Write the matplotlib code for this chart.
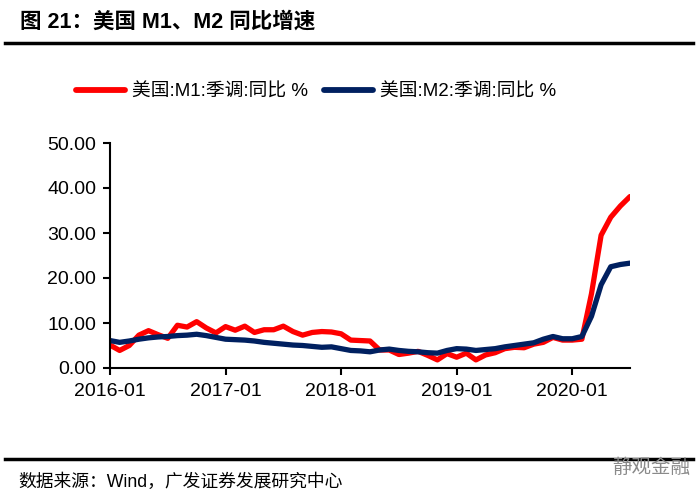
import matplotlib
matplotlib.use("Agg")
import matplotlib.pyplot as plt
import numpy as np

plt.rcParams['font.family'] = ['Liberation Sans', 'Noto Sans CJK SC', 'DejaVu Sans']

# Monthly data 2016-01 .. 2020-07
months = ["2016-01", "2016-02", "2016-03", "2016-04", "2016-05", "2016-06", "2016-07", "2016-08",
          "2016-09", "2016-10", "2016-11", "2016-12", "2017-01", "2017-02", "2017-03", "2017-04",
          "2017-05", "2017-06", "2017-07", "2017-08", "2017-09", "2017-10", "2017-11", "2017-12",
          "2018-01", "2018-02", "2018-03", "2018-04", "2018-05", "2018-06", "2018-07", "2018-08",
          "2018-09", "2018-10", "2018-11", "2018-12", "2019-01", "2019-02", "2019-03", "2019-04",
          "2019-05", "2019-06", "2019-07", "2019-08", "2019-09", "2019-10", "2019-11", "2019-12",
          "2020-01", "2020-02", "2020-03", "2020-04", "2020-05", "2020-06", "2020-07"]

m1_yoy = [5.1, 3.9, 5.0, 7.3, 8.3, 7.4, 6.6, 9.5, 9.1, 10.3, 8.9, 7.8,
          9.2, 8.4, 9.3, 7.9, 8.5, 8.5, 9.3, 8.1, 7.3, 7.9, 8.1, 8.0,
          7.6, 6.2, 6.1, 6.0, 4.0, 4.0, 3.0, 3.3, 3.7, 2.8, 1.8, 3.2,
          2.4, 3.3, 1.8, 2.9, 3.4, 4.3, 4.6, 4.5, 5.3, 5.7, 6.8, 6.2,
          6.2, 6.4, 16.5, 29.5, 33.5, 36.0, 38.1]

m2_yoy = [6.1, 5.7, 6.0, 6.4, 6.7, 6.9, 7.0, 7.2, 7.3, 7.5, 7.2, 6.8,
          6.4, 6.3, 6.2, 6.0, 5.7, 5.5, 5.3, 5.1, 5.0, 4.8, 4.6, 4.7,
          4.3, 3.9, 3.8, 3.6, 4.0, 4.2, 3.9, 3.7, 3.6, 3.4, 3.3, 3.9,
          4.3, 4.2, 3.9, 4.1, 4.3, 4.7, 5.0, 5.3, 5.6, 6.4, 7.0, 6.5,
          6.5, 7.0, 11.5, 18.5, 22.5, 23.0, 23.3]

series_names = ["美国:M1:季调:同比 %", "美国:M2:季调:同比 %"]
series_colors = ["#FF0000", "#002060"]
xtick_labels = ["2016-01", "2017-01", "2018-01", "2019-01", "2020-01"]
yticks = [0, 10, 20, 30, 40, 50]

W, H = 698, 499
fig = plt.figure(figsize=(W / 100, H / 100), dpi=100)

# plot area in pixels: left 110, right 630, top 143, bottom 368
ax = fig.add_axes([110 / W, 1 - 368 / H, (630 - 110) / W, (368 - 143) / H])

x = np.arange(len(months))
for vals, name, col in zip([m1_yoy, m2_yoy], series_names, series_colors):
    ax.plot(x, vals, color=col, lw=3.8, label=name, solid_joinstyle='round',
            solid_capstyle='round')

ax.set_xlim(0, len(months) - 1)
ax.set_ylim(0, 50)
ax.set_yticks(yticks)
ax.set_yticklabels([f"{v:.2f}" for v in yticks])
ax.set_xticks([months.index(m) for m in xtick_labels])
ax.set_xticklabels(xtick_labels)
for s in ["top", "right"]:
    ax.spines[s].set_visible(False)
for s in ["left", "bottom"]:
    ax.spines[s].set_linewidth(1.5)
    ax.spines[s].set_color("black")
ax.tick_params(axis='both', direction='out', length=5, width=1.5, labelsize=14,
               colors='black')
ax.tick_params(axis='y', pad=5)
ax.tick_params(axis='x', pad=6)

leg = fig.legend(loc='center', bbox_to_anchor=(316 / W, 1 - 92 / H), ncol=2,
                 frameon=False, fontsize=13.5, handlelength=2.6, handletextpad=0.35,
                 columnspacing=0.9)
for line in leg.get_lines():
    line.set_linewidth(4.2)

# title and rules
fig.text(20 / W, 1 - 22 / H, "图 21：美国 M1、M2 同比增速", fontsize=15.5, fontweight='bold',
         ha='left', va='center')
fig.add_artist(plt.Line2D([5 / W, 693 / W], [1 - 43 / H, 1 - 43 / H], color='black', lw=2.5))
fig.add_artist(plt.Line2D([5 / W, 693 / W], [1 - 459 / H, 1 - 459 / H], color='black', lw=2.5))

fig.text(18 / W, 1 - 482 / H, "数据来源：Wind，广发证券发展研究中心", fontsize=12.8,
         ha='left', va='center')
fig.text(690 / W, 1 - 468 / H, "静观金融", fontsize=14, color='#8a8a8a',
         ha='right', va='center')

fig.savefig("out.png", dpi=100)
